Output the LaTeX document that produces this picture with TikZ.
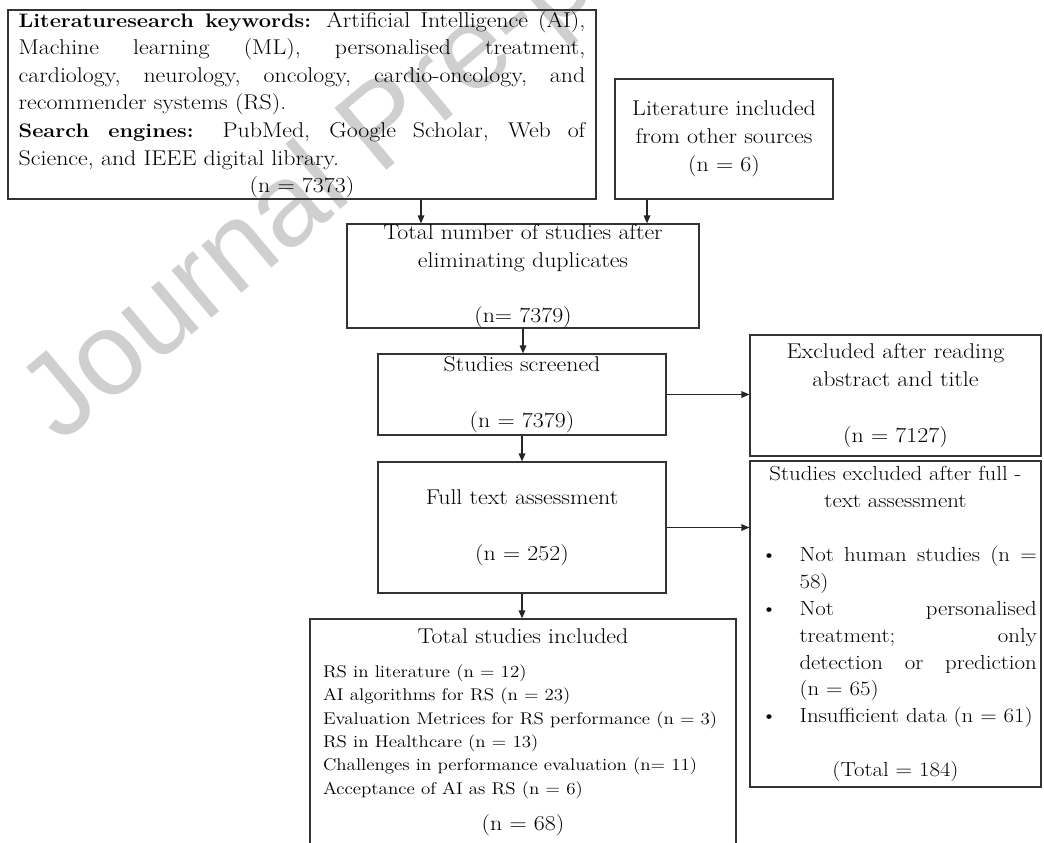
\documentclass[tikz,border=0pt]{standalone}
\usepackage{fontspec}
\setmainfont{Latin Modern Roman}[FakeStretch=1.12]
\newfontfamily\wmfont{Liberation Sans}
\usetikzlibrary{arrows.meta}
\setlength{\parindent}{0pt}
\tikzset{ box_style/.style = { rectangle % flow box
        , draw = black!80
        , line width = 0.9pt
        , inner sep = 0pt
        , align = center
        , font = \fontsize{16pt}{21pt}\selectfont
        }
        , list_style/.style = { box_style % box with justified text
        , align = justify
        , font = \fontsize{15pt}{20.5pt}\selectfont
        }
        }
\newcommand{\headword}[1]{{\fontsize{14.6pt}{20.5pt}\selectfont\textbf{#1}}}

\begin{document}
\begin{tikzpicture}[x=0.75pt, y=-0.75pt,
        edge_style/.style={draw=black!85, line width=0.9pt, -{Triangle[length=6pt,width=5pt]}},
        wm_style/.style={font=\wmfont\fontsize{88pt}{88pt}\selectfont, text=black!19, inner sep=0pt}]
        \useasboundingbox (0,0) rectangle (1044,842);
        \node [wm_style, rotate=40, anchor=base west] (watermark) at (60,445) {Journal Pre-proof};

        \node [list_style, minimum width=441pt, minimum height=141.75pt, text width=425pt,
            font=\fontsize{16pt}{20.7pt}\selectfont] (keywords) at (302,104.5)
            {\headword{Literaturesearch keywords:} Artificial Intelligence (AI),\linebreak
             Machine learning (ML), personalised treatment,\linebreak
             cardiology, neurology, oncology, cardio-oncology, and\linebreak
             recommender systems (RS).\par
             \headword{Search engines:} PubMed, Google Scholar, Web of\linebreak
             Science, and IEEE digital library.\par
             \centerline{(n = 7373)}};
        \node [box_style, minimum width=163.5pt, minimum height=90pt] (sources) at (724,139)
            {Literature included\\from other sources\\(n = 6)};
        \node [box_style, minimum width=264pt, minimum height=78pt] (total) at (523,276)
            {Total number of studies after\\eliminating duplicates\\[20pt](n= 7379)};
        \node [box_style, minimum width=216pt, minimum height=60.75pt] (screened) at (522,394.5)
            {Studies screened\\[21pt](n = 7379)};
        \node [box_style, minimum width=218.25pt, minimum height=90.75pt] (excl_abstract) at (895.5,395.5)
            {Excluded after reading\\abstract and title\\[21pt](n = 7127)};
        \node [box_style, minimum width=216pt, minimum height=98.25pt] (fulltext) at (522,527.5)
            {Full text assessment\\[21pt](n = 252)};
        \node [list_style, minimum width=218.25pt, minimum height=244.5pt, text width=212pt,
            font=\fontsize{15.3pt}{20.2pt}\selectfont] (excl_fulltext) at (895.5,624)
            {\centerline{Studies excluded after full -}\par
             \centerline{text assessment}\par\vspace{20.2pt}
             \hangindent=34pt\hangafter=1\noindent\makebox[34pt][l]{\hspace{5pt}\textbullet}Not human studies (n =\linebreak 58)\par
             \hangindent=34pt\hangafter=1\noindent\makebox[34pt][l]{\hspace{5pt}\textbullet}Not personalised\linebreak
             treatment; only\linebreak detection or prediction\linebreak (n = 65)\par
             \hangindent=34pt\hangafter=1\noindent\makebox[34pt][l]{\hspace{5pt}\textbullet}Insufficient data (n = 61)\par
             \vspace{20.2pt}\centerline{(Total = 184)}};
        \node [list_style, minimum width=319.5pt, minimum height=170.25pt, text width=300pt] (included) at (523,732.5)
            {\centerline{\fontsize{16pt}{20pt}\selectfont Total studies included}\par\vspace{8pt}
             {\fontsize{12.7pt}{17.5pt}\selectfont\raggedright
              RS in literature (n = 12)\\
              AI algorithms for RS (n = 23)\\
              Evaluation Metrices for RS performance (n = 3)\\
              RS in Healthcare (n = 13)\\
              Challenges in performance evaluation (n= 11)\\
              Acceptance of AI as RS (n = 6)\par}
             \vspace{7pt}\centerline{\fontsize{16pt}{20pt}\selectfont (n = 68)}};

        \coordinate (tap1) at (421,0);
        \coordinate (tap2) at (647,0);
        \draw [edge_style] (keywords.south -| tap1) -- (total.north -| tap1);
        \draw [edge_style] (sources.south -| tap2) -- (total.north -| tap2);
        \draw [edge_style] (total.south) -- (total.south |- screened.north);
        \draw [edge_style] (screened.south) -- (screened.south |- fulltext.north);
        \draw [edge_style] (fulltext.south) -- (fulltext.south |- included.north);
        \draw [edge_style] (screened.east) -- (screened.east -| excl_abstract.west);
        \draw [edge_style] (fulltext.east) -- (fulltext.east -| excl_fulltext.west);
\end{tikzpicture}
\end{document}
